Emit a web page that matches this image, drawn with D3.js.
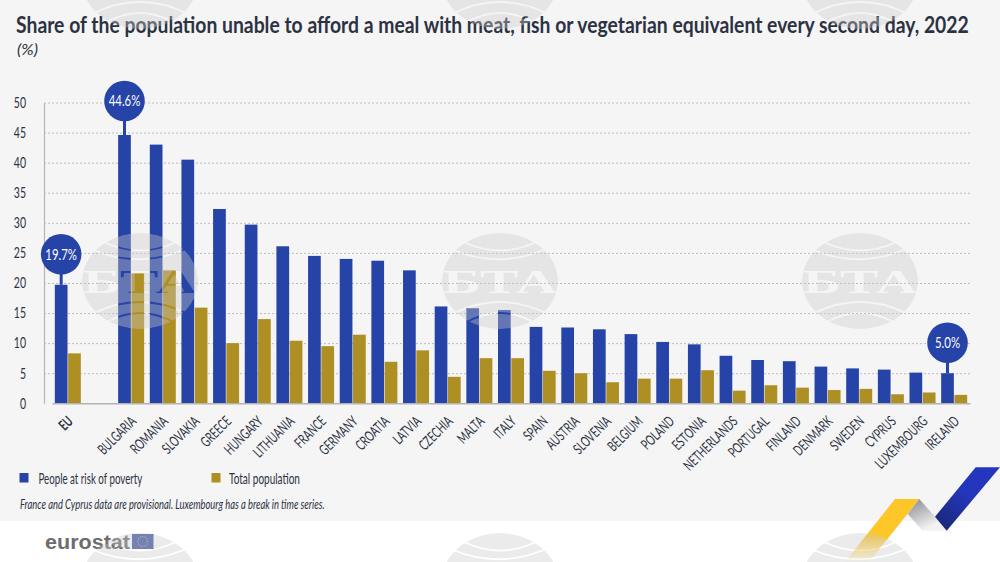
<!DOCTYPE html>
<html>
<head>
<meta charset="utf-8">
<script src="https://cdn.jsdelivr.net/npm/d3@7"></script>
<style>
    html, body { margin: 0; padding: 0; background: #fff; overflow: hidden; }
    svg { display: block; }
    text { font-family: Lato, "Liberation Sans", sans-serif; fill: #2c3242; }
</style>
</head>
<body>
<div id="chart"></div>
<script>
const categories = ["EU", "", "BULGARIA", "ROMANIA", "SLOVAKIA", "GREECE", "HUNGARY", "LITHUANIA", "FRANCE", "GERMANY",
    "CROATIA", "LATVIA", "CZECHIA", "MALTA", "ITALY", "SPAIN", "AUSTRIA", "SLOVENIA", "BELGIUM", "POLAND", "ESTONIA",
    "NETHERLANDS", "PORTUGAL", "FINLAND", "DENMARK", "SWEDEN", "CYPRUS", "LUXEMBOURG", "IRELAND"];
const poverty = [19.7, null, 44.6, 43.0, 40.5, 32.3, 29.7, 26.1, 24.5, 24.0,
    23.7, 22.1, 16.1, 15.8, 15.5, 12.7, 12.6, 12.3, 11.5, 10.2, 9.8,
    7.9, 7.2, 7.0, 6.1, 5.8, 5.6, 5.1, 5.0];
const total = [8.3, null, 21.6, 22.1, 15.9, 10.0, 14.0, 10.4, 9.5, 11.4,
    6.9, 8.8, 4.4, 7.5, 7.5, 5.4, 5.0, 3.5, 4.1, 4.1, 5.5,
    2.1, 3.0, 2.6, 2.2, 2.4, 1.5, 1.8, 1.4];
const yTicks = [0, 5, 10, 15, 20, 25, 30, 35, 40, 45, 50];
const callouts = ["EU", "BULGARIA", "IRELAND"];
const seriesNames = ["People at risk of poverty", "Total population"];

const blue = "#2643a7", gold = "#ae8f23";
const width = 1000, height = 562;

const svg = d3.select("#chart").append("svg")
    .attr("width", width)
    .attr("height", height);

const defs = svg.append("defs");

// backgrounds
svg.append("rect").attr("width", width).attr("height", 521).attr("fill", "#f5f5f5");

const x = d3.scaleBand().domain(categories).range([52, 970]);
const y = d3.scaleLinear().domain([0, 50]).range([403.3, 102.5]);
const barW = 12.7;

// the reference font is condensed and none is installed, so squeeze to the measured width
function fitted(txt, px, py, size, len, weight, style, family) {
    const t = svg.append("text")
        .attr("font-size", size)
        .attr("font-weight", weight || null)
        .attr("font-style", style || null)
        .style("font-family", family || null)
        .text(txt);
    const k = len / t.node().getComputedTextLength();
    t.attr("transform", "translate(" + px + "," + py + ") scale(" + k + ",1)");
    return t;
}

fitted("Share of the population unable to afford a meal with meat, fish or vegetarian equivalent every second day, 2022", 16, 33, 23.5, 953, "bold");
fitted("(%)", 17, 55, 14.5, 21, null, "italic");

// y axis with dotted grid
const yAxis = svg.append("g")
    .attr("transform", "translate(44,0)")
    .call(d3.axisLeft(y).tickValues(yTicks).tickSize(0).tickPadding(0));
yAxis.select(".domain").attr("stroke", "#b4b4b4").attr("stroke-width", 1.2);
yAxis.selectAll(".tick text")
    .attr("font-size", 15)
    .attr("x", 0)
    .attr("transform", "translate(-18,0) scale(0.7,1)");
yAxis.selectAll(".tick").filter(d => d > 0).append("line")
    .attr("x2", 927)
    .attr("stroke", "#bdbdbd")
    .attr("stroke-dasharray", "2,2");

// bars
const groups = svg.append("g").selectAll("g")
    .data(categories.map((c, i) => ({ c, p: poverty[i], t: total[i] })).filter(d => d.c))
    .enter().append("g")
    .attr("transform", d => "translate(" + (x(d.c) + x.bandwidth() / 2) + ",0)");
groups.append("rect")
    .attr("x", -barW - 0.3).attr("width", barW)
    .attr("y", d => y(d.p)).attr("height", d => y(0) - y(d.p))
    .attr("fill", blue);
groups.append("rect")
    .attr("x", 0.3).attr("width", barW)
    .attr("y", d => y(d.t)).attr("height", d => y(0) - y(d.t))
    .attr("fill", gold);

// x axis
const xAxis = svg.append("g")
    .attr("transform", "translate(0," + y(0) + ")")
    .call(d3.axisBottom(x).tickSize(0).tickPadding(0));
xAxis.select(".domain").attr("stroke", "#b4b4b4").attr("stroke-width", 1.5);
xAxis.selectAll(".tick text")
    .attr("font-size", 14.5)
    .attr("text-anchor", "end")
    .attr("dy", 0)
    .attr("transform", "translate(6,19) rotate(-45) scale(0.67,1)")
    .attr("font-weight", d => d === "EU" ? "bold" : null);

// value bubbles
callouts.forEach(c => {
    const i = categories.indexOf(c);
    const cx = x(c) + x.bandwidth() / 2 - barW / 2 - 0.3;
    const top = y(poverty[i]);
    const cy = c === "BULGARIA" ? top - 34 : top - 30.5;
    svg.append("line").attr("x1", cx).attr("x2", cx).attr("y1", cy).attr("y2", top)
        .attr("stroke", blue).attr("stroke-width", 3);
    svg.append("circle").attr("cx", cx).attr("cy", cy).attr("r", 20.3).attr("fill", blue);
    svg.append("text").attr("text-anchor", "middle").attr("font-size", 15)
        .attr("transform", "translate(" + cx + "," + (cy + 5.5) + ") scale(0.76,1)")
        .style("fill", "#fff")
        .text(poverty[i].toFixed(1) + "%");
});

// legend and note
svg.append("rect").attr("x", 19.5).attr("y", 473).attr("width", 9).attr("height", 9.5).attr("fill", blue);
fitted(seriesNames[0], 38.5, 484, 14.5, 104);
svg.append("rect").attr("x", 211.5).attr("y", 473).attr("width", 9).attr("height", 9.5).attr("fill", gold);
fitted(seriesNames[1], 229, 484, 14.5, 71);
fitted("France and Cyprus data are provisional. Luxembourg has a break in time series.", 20, 509, 13, 305, null, "italic");

// eurostat logo
fitted("eurostat", 45, 548.5, 21, 85, "bold", null, "Liberation Sans").style("fill", "#6d6d6d");
svg.append("rect").attr("x", 132).attr("y", 534).attr("width", 21.5).attr("height", 15).attr("fill", "#3f55a8");
svg.append("g").selectAll("circle").data(d3.range(12)).enter().append("circle")
    .attr("cx", d => 142.7 + 5 * Math.cos(d * Math.PI / 6))
    .attr("cy", d => 541.5 + 5 * Math.sin(d * Math.PI / 6))
    .attr("r", 0.6).attr("fill", "#e8c840");

// corner ribbon
const gradYellow = defs.append("linearGradient").attr("id", "gy").attr("x1", 0).attr("y1", 0).attr("x2", 0).attr("y2", 1);
gradYellow.append("stop").attr("offset", "0.6").attr("stop-color", "#fdc629");
gradYellow.append("stop").attr("offset", "1").attr("stop-color", "#fdc629").attr("stop-opacity", 0);
const gradGrey = defs.append("linearGradient").attr("id", "gg").attr("x1", 0).attr("y1", 0).attr("x2", 0.6).attr("y2", 1);
gradGrey.append("stop").attr("offset", "0").attr("stop-color", "#85868c");
gradGrey.append("stop").attr("offset", "0.9").attr("stop-color", "#f2f2f2");
const gradBlue = defs.append("linearGradient").attr("id", "gb").attr("x1", 0.8).attr("y1", 0).attr("x2", 0.2).attr("y2", 1);
gradBlue.append("stop").attr("offset", "0.45").attr("stop-color", "#2436bb");
gradBlue.append("stop").attr("offset", "1").attr("stop-color", "#1a2778");

svg.append("polygon").attr("points", "895,499 919.5,499 869,562 845,562").attr("fill", "url(#gy)");
svg.append("polygon").attr("points", "919.3,499 935,516.7 946.7,530.7 922.7,530.7 907.7,514").attr("fill", "url(#gg)");
svg.append("polygon").attr("points", "975.7,467.3 1000,467.3 946.7,530.7 935,516.7").attr("fill", "url(#gb)");

// agency watermark, sits over everything
const mask = defs.append("mask").attr("id", "wm")
    .attr("maskUnits", "userSpaceOnUse")
    .attr("x", -70).attr("y", -60).attr("width", 140).attr("height", 120);
mask.append("ellipse").attr("rx", 58).attr("ry", 48).attr("fill", "#fff");
["M-36,-39Q0,-22 36,-39", "M-47,-31Q0,-12 46,-32", "M-46,32Q0,10 46,32", "M-35,42Q0,22 35,42"].forEach(p => {
    mask.append("path").attr("d", p).attr("fill", "none").attr("stroke", "#000").attr("stroke-width", 1.8);
});
mask.append("text").attr("text-anchor", "middle")
    .attr("font-size", 33).attr("font-weight", "bold")
    .attr("transform", "translate(0,11.5) scale(1.75,1)")
    .style("font-family", "Liberation Serif").style("fill", "#000")
    .text("БТА");

[-19, 281, 581].forEach(wy => {
    [140, 500, 860].forEach(wx => {
        svg.append("g").attr("transform", "translate(" + wx + "," + wy + ")")
            .append("ellipse").attr("rx", 58).attr("ry", 48)
            .attr("mask", "url(#wm)")
            .attr("fill", "#cbcbcb").attr("fill-opacity", 0.38);
    });
});
</script>
</body>
</html>
